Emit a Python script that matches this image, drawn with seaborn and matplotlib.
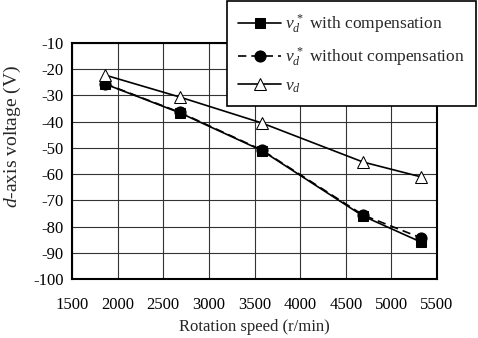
import matplotlib
matplotlib.use("Agg")
import matplotlib.pyplot as plt
import seaborn as sns
import pandas as pd

speed = [1860, 2680, 3580, 4690, 5330]
vd_star_comp = [-25.6, -36.6, -51.0, -76.0, -86.0]
vd_star_nocomp = [-25.5, -36.4, -50.8, -75.6, -84.4]
vd = [-22.2, -30.6, -40.5, -55.4, -61.1]

labels = [r"$v_d^{\,*}$ with compensation",
          r"$v_d^{\,*}$ without compensation",
          r"$v_d$"]

sns.set_theme(style="white")
plt.rcParams['font.family'] = ['Liberation Serif', 'DejaVu Serif']
plt.rcParams['mathtext.fontset'] = 'custom'
plt.rcParams['mathtext.rm'] = 'Liberation Serif'
plt.rcParams['mathtext.it'] = 'Liberation Serif:italic'
plt.rcParams['axes.unicode_minus'] = False

fig = plt.figure(figsize=(4.78, 3.38), dpi=100)
ax = fig.add_axes([72/478, 1-279/338, (437-72)/478, (279-43)/338])

df = pd.DataFrame({"speed": speed, "comp": vd_star_comp,
                   "nocomp": vd_star_nocomp, "vd": vd})

sns.lineplot(data=df, x="speed", y="comp", ax=ax, color="black", lw=1.2,
             marker="s", markersize=7, markeredgecolor="black",
             markerfacecolor="black", label=labels[0], zorder=4)
sns.lineplot(data=df, x="speed", y="nocomp", ax=ax, color="black", lw=1.2,
             linestyle=(0, (5, 3)), marker="o", markersize=8,
             markeredgecolor="black", markerfacecolor="black",
             label=labels[1], zorder=3)
sns.lineplot(data=df, x="speed", y="vd", ax=ax, color="black", lw=1.2,
             marker="^", markersize=9, markeredgecolor="black",
             markerfacecolor="white", label=labels[2], zorder=4)

ax.set_xlim(1500, 5500)
ax.set_ylim(-100, -10)
ax.set_xticks(range(1500, 5501, 500))
ax.set_yticks(range(-100, -9, 10))
ax.grid(True, color="#333333", lw=0.8)
for s in ax.spines.values():
    s.set_color("black")
    s.set_linewidth(1.5)
ax.tick_params(axis="both", labelsize=12, colors="black", length=0)
ax.tick_params(axis="x", pad=13)
ax.tick_params(axis="y", pad=6)
ax.set_xlabel("Rotation speed (r/min)", fontsize=12, labelpad=4)
ax.set_ylabel(r"$d$-axis voltage (V)", fontsize=14)
ax.yaxis.set_label_coords(-0.134, 0.606)

h, l = ax.get_legend_handles_labels()
ax.get_legend().remove()
leg = fig.legend(h, l, loc="upper right", bbox_to_anchor=(477/478, 1.0),
                 fontsize=12.5, frameon=True, fancybox=False, edgecolor="black",
                 framealpha=1, handlelength=2.5, borderpad=0.65,
                 labelspacing=0.58, handletextpad=0.2, borderaxespad=0.05)
leg.get_frame().set_linewidth(1.2)

fig.savefig("out.png", dpi=100)
